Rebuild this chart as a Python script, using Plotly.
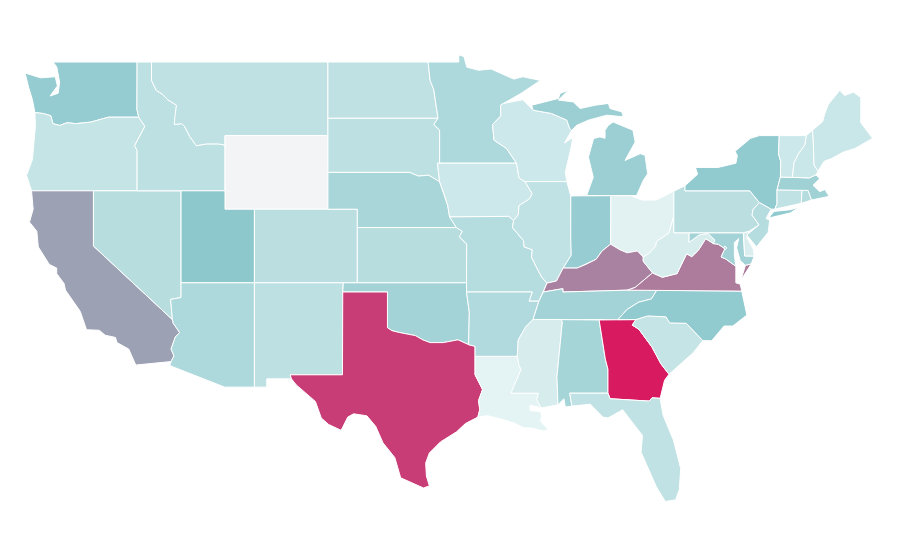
import plotly.graph_objects as go
from plotly.colors import sample_colorscale

# Values estimated from each state's shade in the reference
state_values = {
 "WA":45,"OR":22,"CA":61,"NV":29,"ID":26,"MT":25,"WY":0,"UT":49,"CO":27,"AZ":33,"NM":26,
 "ND":25,"SD":26,"NE":36,"KS":29,"OK":38,"TX":90,"MN":33,"IA":18,"MO":30,"AR":32,"LA":7,
 "WI":18,"IL":24,"IN":44,"MI":42,"OH":8,"KY":70,"TN":38,"MS":14,"AL":37,"GA":100,"FL":24,
 "SC":22,"NC":47,"VA":72,"WV":14,"MD":38,"DE":12,"DC":30,"PA":27,"NY":47,"NJ":30,"CT":24,
 "RI":30,"MA":40,"VT":18,"NH":20,"ME":20,
}
colorscale = [[0,"#f3f4f6"],[0.06,"#e6f4f5"],[0.25,"#bfe1e3"],[0.5,"#8bc7cc"],[1,"#d81b60"]]

# Simplified state outlines, hand-estimated (lon, lat); None separates parts
outlines = {
"WA":[(-124.65,48.4),(-123.6,48.14),(-122.6,48.2),(-122.45,47.7),(-122.95,47.15),(-122.4,47.3),(-122.3,47.9),(-122.5,48.74),(-122.75,49),(-117.03,49),(-117.04,46.42),(-116.92,46),(-118.98,46),(-119.3,45.93),(-120.2,45.73),(-121.2,45.65),(-121.8,45.7),(-122.3,45.55),(-122.76,45.65),(-122.9,46.08),(-123.4,46.2),(-123.98,46.25),(-124.07,46.7),(-124.15,46.95),(-124.4,47.6)],
"OR":[(-123.98,46.25),(-123.4,46.2),(-122.9,46.08),(-122.76,45.65),(-122.3,45.55),(-121.8,45.7),(-121.2,45.65),(-120.2,45.73),(-119.3,45.93),(-118.98,46),(-116.92,46),(-116.5,45.5),(-116.85,45),(-117.2,44.45),(-117.03,44.2),(-117.03,42),(-124.21,42),(-124.55,42.84),(-124.15,43.7),(-124.05,44.7),(-123.95,45.5)],
"CA":[(-124.21,42),(-120,42),(-120,39),(-114.63,35),(-114.57,34.8),(-114.14,34.3),(-114.43,34.05),(-114.72,33.4),(-114.52,33.03),(-114.72,32.72),(-117.12,32.53),(-117.28,32.85),(-117.6,33.4),(-118.4,33.75),(-118.5,34.03),(-119.2,34.15),(-119.6,34.42),(-120.47,34.45),(-120.65,34.9),(-120.9,35.45),(-121.9,36.6),(-122,36.96),(-122.5,37.5),(-122.5,37.8),(-123,38),(-123.75,38.95),(-123.85,39.8),(-124.35,40.3),(-124.1,41)],
"NV":[(-120,42),(-114.04,42),(-114.04,36.2),(-114.75,36.1),(-114.63,35),(-120,39)],
"ID":[(-117.03,49),(-116.05,49),(-116.05,48),(-115.72,47.45),(-115.3,47.25),(-114.95,46.95),(-114.35,46.65),(-114.45,46.1),(-114.5,45.6),(-114,45.65),(-113.8,45.5),(-113.45,44.95),(-113,44.45),(-112.3,44.55),(-111.5,44.55),(-111.05,44.48),(-111.05,42),(-117.03,42),(-117.03,44.2),(-117.2,44.45),(-116.85,45),(-116.5,45.5),(-116.92,46),(-117.04,46.42)],
"MT":[(-116.05,49),(-104.05,49),(-104.05,45),(-111.05,45),(-111.05,44.48),(-111.5,44.55),(-112.3,44.55),(-113,44.45),(-113.45,44.95),(-113.8,45.5),(-114,45.65),(-114.5,45.6),(-114.45,46.1),(-114.35,46.65),(-114.95,46.95),(-115.3,47.25),(-115.72,47.45),(-116.05,48)],
"WY":[(-111.05,45),(-104.05,45),(-104.05,41),(-111.05,41)],
"UT":[(-114.04,42),(-111.05,42),(-111.05,41),(-109.05,41),(-109.05,37),(-114.04,37)],
"CO":[(-109.05,41),(-102.05,41),(-102.05,37),(-109.05,37)],
"AZ":[(-114.04,37),(-109.05,37),(-109.05,31.33),(-111.07,31.33),(-114.81,32.5),(-114.72,32.72),(-114.52,33.03),(-114.72,33.4),(-114.43,34.05),(-114.14,34.3),(-114.57,34.8),(-114.63,35),(-114.75,36.1),(-114.04,36.2)],
"NM":[(-109.05,37),(-103,37),(-103.04,36.5),(-103.06,32),(-106.62,32),(-106.53,31.78),(-108.21,31.78),(-108.21,31.33),(-109.05,31.33)],
"ND":[(-104.05,49),(-97.23,49),(-97.1,48),(-96.85,47.5),(-96.56,45.94),(-104.05,45.94)],
"SD":[(-104.05,45.94),(-96.56,45.94),(-96.85,45.6),(-96.45,45.3),(-96.45,43.5),(-96.6,43.5),(-96.45,42.49),(-97.2,42.85),(-97.9,42.8),(-98.5,43),(-104.05,43)],
"NE":[(-104.05,43),(-98.5,43),(-97.9,42.8),(-97.2,42.85),(-96.45,42.49),(-96.1,41.7),(-95.9,41.2),(-95.77,40.58),(-95.31,40),(-102.05,40),(-102.05,41),(-104.05,41)],
"KS":[(-102.05,40),(-95.31,40),(-94.9,39.8),(-95.1,39.5),(-94.61,39.1),(-94.62,37),(-102.05,37)],
"OK":[(-103,37),(-94.62,37),(-94.62,36.5),(-94.43,35.4),(-94.48,33.64),(-95.2,33.9),(-96.2,33.75),(-97.1,33.75),(-97.6,33.9),(-98.1,34.13),(-99.2,34.3),(-99.7,34.4),(-100,34.56),(-100,36.5),(-103.04,36.5)],
"TX":[(-103.04,36.5),(-100,36.5),(-100,34.56),(-99.7,34.4),(-99.2,34.3),(-98.1,34.13),(-97.6,33.9),(-97.1,33.75),(-96.2,33.75),(-95.2,33.9),(-94.48,33.64),(-94.04,33.55),(-94.04,32),(-93.53,31.2),(-93.8,30.6),(-93.72,30.1),(-93.85,29.7),(-94.7,29.35),(-95.3,28.9),(-96.4,28.35),(-97.15,27.75),(-97.4,27.2),(-97.35,26.5),(-97.15,25.96),(-97.55,25.85),(-98.3,26.1),(-99.1,26.4),(-99.5,27.5),(-100.3,28.3),(-100.8,29.2),(-101.4,29.77),(-102.3,29.88),(-102.7,29.7),(-103.15,28.98),(-104,29.3),(-104.5,29.65),(-104.9,30.55),(-106.2,31.45),(-106.53,31.78),(-106.62,32),(-103.06,32)],
"MN":[(-97.23,49),(-95.15,49),(-95.15,49.38),(-94.8,49.3),(-94.6,48.72),(-93.8,48.55),(-92.95,48.62),(-92,48.3),(-91.4,48.07),(-90.8,48.2),(-89.6,48),(-90.9,47.3),(-92.1,46.75),(-92.3,46.66),(-92.29,46.07),(-92.85,45.6),(-92.75,44.75),(-91.9,44.3),(-91.22,43.5),(-96.45,43.5),(-96.45,45.3),(-96.85,45.6),(-96.56,45.94),(-96.85,47.5),(-97.1,48)],
"IA":[(-96.6,43.5),(-91.22,43.5),(-91.05,42.7),(-90.65,42.5),(-90.15,41.85),(-90.35,41.55),(-91.05,41.2),(-91.1,40.7),(-91.42,40.38),(-91.75,40.61),(-95.77,40.58),(-95.9,41.2),(-96.1,41.7),(-96.45,42.49)],
"MO":[(-95.77,40.58),(-91.75,40.61),(-91.42,40.38),(-91.5,40),(-90.75,39.3),(-90.7,38.95),(-90.15,38.8),(-90.2,38.4),(-89.9,37.9),(-89.5,37.3),(-89.15,36.98),(-89.4,36.5),(-89.7,36),(-90.37,36),(-90.15,36.5),(-94.62,36.5),(-94.62,37),(-94.61,39.1),(-95.1,39.5),(-94.9,39.8),(-95.31,40)],
"AR":[(-94.62,36.5),(-90.15,36.5),(-90.37,36),(-89.7,36),(-90.1,35),(-90.6,34.6),(-91.1,33.9),(-91.17,33),(-94.04,33),(-94.04,33.55),(-94.48,33.64),(-94.43,35.4)],
"LA":[(-94.04,33),(-91.17,33),(-91.05,32.5),(-90.9,32.3),(-91.6,31),(-89.73,31),(-89.85,30.65),(-89.55,30.2),(-90.3,30.35),(-90.3,30.05),(-89.6,30),(-89.5,29.75),(-89.6,29.5),(-89.07,29.02),(-89.4,28.95),(-90.1,29.1),(-90.75,29.13),(-91.3,29.35),(-92.1,29.56),(-93.2,29.78),(-93.85,29.7),(-93.72,30.1),(-93.8,30.6),(-93.53,31.2),(-94.04,32)],
"WI":[(-92.1,46.75),(-90.8,46.95),(-90.09,46.38),(-88.83,46.2),(-87.8,45.84),(-87.6,45.38),(-87.47,45.29),(-87.95,44.6),(-87.2,45),(-87.05,45.25),(-87.4,44.85),(-87.5,44.4),(-87.9,43),(-87.8,42.5),(-90.65,42.5),(-91.05,42.7),(-91.22,43.5),(-91.9,44.3),(-92.75,44.75),(-92.85,45.6),(-92.29,46.07),(-92.3,46.66)],
"IL":[(-90.65,42.5),(-87.8,42.5),(-87.53,41.72),(-87.53,39.35),(-87.5,38.5),(-88.05,37.8),(-88.5,37.1),(-89.15,36.98),(-89.5,37.3),(-89.9,37.9),(-90.2,38.4),(-90.15,38.8),(-90.7,38.95),(-90.75,39.3),(-91.5,40),(-91.42,40.38),(-91.1,40.7),(-91.05,41.2),(-90.35,41.55),(-90.15,41.85)],
"IN":[(-87.53,41.72),(-86.45,41.74),(-84.8,41.74),(-84.82,39.1),(-85.4,38.73),(-85.8,38.28),(-86.5,38),(-87.1,37.8),(-88.05,37.8),(-87.5,38.5),(-87.53,39.35)],
"MI":[(-84.97,45.56),(-84.65,45.74),(-83.3,45.29),(-83.15,44.65),(-83.84,43.65),(-82.8,44.02),(-82.48,43.93),(-82.3,42.93),(-82.6,42.56),(-83.05,41.74),(-86.45,41.74),(-86,42.74),(-86.33,43.83),(-85.98,44.84),(-85.55,44.93),(-85.2,44.85),(-85.2,45.29),(-84.97,45.56),None,(-90.19,46.65),(-88.37,47.02),(-88.26,47.29),(-87.7,47.47),(-88.37,46.93),(-87.35,46.83),(-86.9,46.47),(-85.88,46.65),(-84.97,46.75),(-84.86,46.47),(-84.06,46.29),(-83.95,46.02),(-85.08,46.11),(-86.33,45.84),(-87.13,45.56),(-87.47,45.29),(-87.6,45.38),(-87.8,45.84),(-88.83,46.2),(-90.09,46.38),(-90.19,46.65)],
"OH":[(-84.8,41.74),(-83.45,41.73),(-82.7,41.5),(-81.7,41.5),(-80.52,41.98),(-80.52,40.64),(-80.85,39.7),(-81.7,39.25),(-81.75,39),(-82.2,38.6),(-82.6,38.4),(-83,38.73),(-83.7,38.63),(-84.2,38.8),(-84.82,39.1)],
"KY":[(-89.4,36.5),(-88.07,36.68),(-88.07,36.5),(-83.68,36.6),(-83.15,36.75),(-81.97,37.54),(-82.6,38.17),(-82.6,38.4),(-83,38.73),(-83.7,38.63),(-84.2,38.8),(-84.82,39.1),(-85.4,38.73),(-85.8,38.28),(-86.5,38),(-87.1,37.8),(-88.05,37.8),(-88.5,37.1),(-89.15,36.98)],
"TN":[(-90.1,35),(-88.2,35),(-85.6,34.98),(-84.32,35),(-83.7,35.55),(-82.9,35.95),(-82.05,36.12),(-81.68,36.59),(-83.68,36.6),(-88.07,36.5),(-88.07,36.68),(-89.4,36.5),(-89.7,36)],
"MS":[(-91.17,33),(-91.1,33.9),(-90.6,34.6),(-90.1,35),(-88.2,35),(-88.1,34.9),(-88.47,31.9),(-88.4,30.37),(-89.55,30.2),(-89.85,30.65),(-89.73,31),(-91.6,31),(-90.9,32.3),(-91.05,32.5)],
"AL":[(-88.2,35),(-85.6,34.98),(-85.18,32.86),(-85,32.3),(-85,31),(-87.6,31),(-87.45,30.3),(-87.9,30.25),(-88,30.7),(-88.4,30.37),(-88.47,31.9),(-88.1,34.9)],
"GA":[(-85.6,34.98),(-83.1,35),(-83.35,34.7),(-82.9,34.48),(-82,33.5),(-81.4,32.6),(-80.85,32.03),(-81.15,31.7),(-81.45,30.72),(-82,30.75),(-82.2,30.57),(-84.86,30.7),(-85,31),(-85,32.3),(-85.18,32.86)],
"FL":[(-87.6,31),(-85,31),(-84.86,30.7),(-82.2,30.57),(-82,30.75),(-81.45,30.72),(-81.25,29.8),(-80.55,28.45),(-80.05,26.9),(-80.15,25.75),(-80.4,25.2),(-81.1,25.12),(-81.7,25.9),(-82.15,26.7),(-82.75,27.8),(-82.65,28.7),(-83.4,29.5),(-84,30.1),(-85,29.65),(-85.35,29.7),(-86.2,30.4),(-87.45,30.3)],
"SC":[(-83.1,35),(-82.3,35.2),(-81.05,35.15),(-80.8,34.82),(-79.67,34.8),(-78.55,33.86),(-79.2,33.2),(-80.45,32.35),(-80.85,32.03),(-81.4,32.6),(-82,33.5),(-82.9,34.48),(-83.35,34.7)],
"NC":[(-84.32,35),(-83.1,35),(-82.3,35.2),(-81.05,35.15),(-80.8,34.82),(-79.67,34.8),(-78.55,33.86),(-77.95,33.85),(-77.1,34.65),(-76.5,34.65),(-75.55,35.25),(-75.9,36.55),(-81.68,36.59),(-82.05,36.12),(-82.9,35.95),(-83.7,35.55)],
"VA":[(-83.68,36.6),(-81.68,36.59),(-75.9,36.55),(-76,36.92),(-76.3,37),(-76.3,37.9),(-77,38.3),(-77.3,38.4),(-77.05,38.85),(-77.5,39.1),(-77.83,39.13),(-78.35,39.4),(-78.85,38.77),(-79.3,38.42),(-79.65,38.58),(-80.3,37.5),(-81.3,37.3),(-81.97,37.54),(-83.15,36.75),(-83.68,36.6),None,(-75.95,37.15),(-75.65,37.95),(-75.25,38.03),(-75.6,37.55),(-75.95,37.15)],
"WV":[(-81.97,37.54),(-81.3,37.3),(-80.3,37.5),(-79.65,38.58),(-79.3,38.42),(-78.85,38.77),(-78.35,39.4),(-77.83,39.13),(-77.72,39.32),(-78.2,39.68),(-78.8,39.6),(-79.48,39.2),(-79.48,39.72),(-80.52,39.72),(-80.52,40.64),(-80.85,39.7),(-81.7,39.25),(-81.75,39),(-82.2,38.6),(-82.6,38.4),(-82.6,38.17)],
"MD":[(-79.48,39.72),(-75.79,39.72),(-75.7,38.46),(-75.05,38.45),(-75.25,38.03),(-75.65,37.95),(-76,38.2),(-76.25,38.9),(-76.1,39.4),(-76.4,39.2),(-76.4,38.5),(-76.35,38.1),(-76.3,37.9),(-77,38.3),(-77.3,38.4),(-77.05,38.85),(-77.5,39.1),(-77.83,39.13),(-77.72,39.32),(-78.2,39.68),(-78.8,39.6),(-79.48,39.2)],
"DE":[(-75.79,39.72),(-75.4,39.8),(-75.55,39.45),(-75.1,38.8),(-75.05,38.45),(-75.7,38.46)],
"DC":[(-77.12,38.93),(-77.04,39),(-76.91,38.89),(-77.04,38.79)],
"PA":[(-80.52,41.98),(-79.76,42.27),(-79.76,42),(-75.35,42),(-74.7,41.36),(-75.13,40.98),(-75.2,40.68),(-74.72,40.15),(-75.4,39.8),(-75.79,39.72),(-80.52,39.72)],
"NY":[(-79.76,42.27),(-78.9,42.9),(-79.05,43.27),(-77.5,43.27),(-76.3,43.5),(-76.2,43.9),(-76.35,44.15),(-75.3,44.85),(-74.7,45),(-73.35,45),(-73.4,44),(-73.25,43.6),(-73.27,42.75),(-73.5,42.05),(-73.5,41.3),(-73.65,41),(-73.9,41),(-74.7,41.36),(-75.35,42),(-79.76,42),(-79.76,42.27),None,(-74,40.6),(-73.7,40.88),(-72.6,40.97),(-72,41.1),(-72.6,40.8),(-73.9,40.55),(-74,40.6)],
"NJ":[(-74.7,41.36),(-73.9,41),(-74.25,40.5),(-74,40.4),(-74.1,39.75),(-74.9,38.95),(-75.4,39.45),(-75.55,39.6),(-74.72,40.15),(-75.2,40.68),(-75.13,40.98)],
"CT":[(-73.5,42.05),(-71.8,42.02),(-71.85,41.32),(-73.65,41),(-73.5,41.3)],
"RI":[(-71.8,42.02),(-71.38,42.02),(-71.15,41.5),(-71.85,41.32)],
"MA":[(-73.5,42.05),(-73.27,42.75),(-71.3,42.7),(-70.85,42.87),(-70.6,42.65),(-71.05,42.3),(-70.6,41.95),(-70.25,42.07),(-69.95,41.7),(-70.7,41.55),(-71.15,41.5),(-71.38,42.02),(-71.8,42.02)],
"VT":[(-73.35,45),(-71.5,45),(-71.6,44.5),(-72.05,44),(-72.35,43.5),(-72.45,42.73),(-73.27,42.75),(-73.25,43.6),(-73.4,44)],
"NH":[(-71.5,45),(-71.08,45.3),(-71.03,44.65),(-70.98,43.4),(-70.7,43.07),(-70.85,42.87),(-71.3,42.7),(-72.45,42.73),(-72.35,43.5),(-72.05,44),(-71.6,44.5)],
"ME":[(-71.08,45.3),(-70.4,45.75),(-70.25,46.2),(-70,46.7),(-69.23,47.46),(-68.9,47.18),(-68.3,47.36),(-67.8,47.07),(-67.8,45.7),(-67.45,45.3),(-67,44.85),(-68.2,44.3),(-69,44.1),(-69.8,43.75),(-70.3,43.6),(-70.7,43.07),(-70.98,43.4),(-71.03,44.65)],
}

def closed_path(pts):
    """Split on None, close each ring on its own, and rejoin with gaps."""
    rings, ring = [], []
    for p in pts + [None]:
        if p is None:
            rings.append(ring)
            ring = []
        else:
            ring.append(p)
    lon, lat = [], []
    for i, r in enumerate(rings):
        if r[-1] != r[0]:
            r = r + [r[0]]
        if i:
            lon.append(None); lat.append(None)
        lon += [p[0] for p in r]
        lat += [p[1] for p in r]
    return lon, lat

fig = go.Figure()
for code, pts in outlines.items():
    value = state_values[code]
    lon, lat = closed_path(pts)
    fig.add_trace(go.Scatter(x=lon, y=lat, mode="lines", fill="toself",
        fillcolor=sample_colorscale(colorscale, value / 100)[0],
        line=dict(color="#ffffff", width=1), name=code, showlegend=False,
        hoveron="fills", text=f"{code}: {value}", hoverinfo="text"))

# Landmarks in the reference fit 14.7 px per degree of lon and 18.4 px per degree of lat,
# with the page's 8 px body margin allowed for
fig.update_xaxes(visible=False, range=[-125.812, -64.59], fixedrange=True)
fig.update_yaxes(visible=False, range=[21.5, 51.935], fixedrange=True)
fig.update_layout(width=900, height=560, margin=dict(l=0, r=0, t=0, b=0),
    paper_bgcolor="#ffffff", plot_bgcolor="#ffffff", showlegend=False)
fig.write_html("out.html")
